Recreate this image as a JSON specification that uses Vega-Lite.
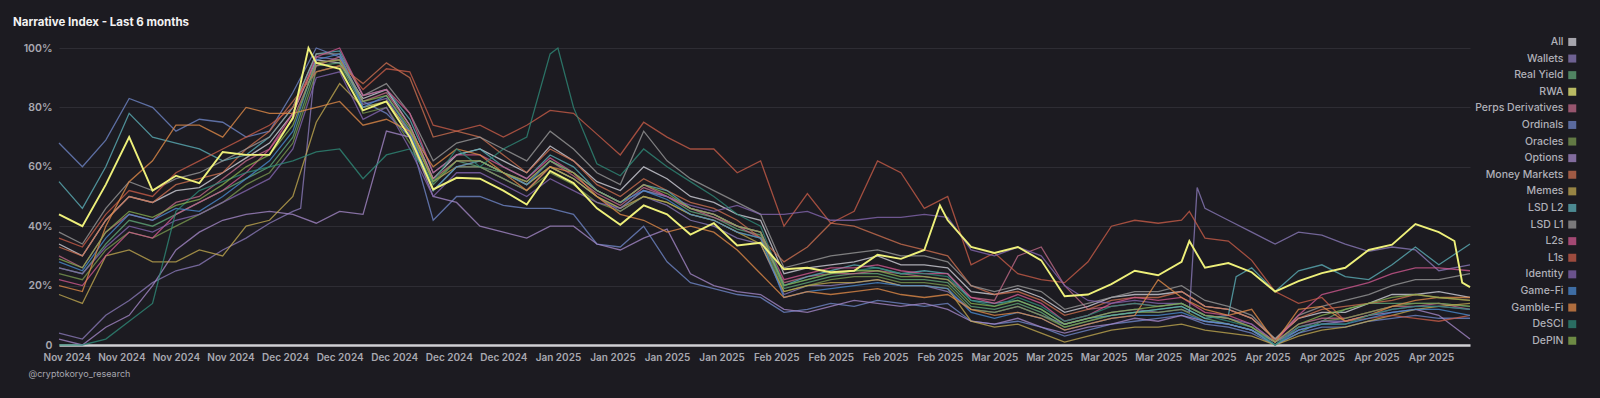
{
"$schema":"https://vega.github.io/schema/vega-lite/v6.json",
"width":1411,"height":297,
"autosize":{"type":"none"},
"padding":{"left":59,"top":48,"right":130,"bottom":53},
"background":"#1c1b21",
"config":{"view":{"stroke":null},"font":"Inter"},
"title":{"text":"Narrative Index - Last 6 months","anchor":"start","frame":"group","dx":-46,"offset":8.5,"font":"Inter","fontSize":11.5,"fontWeight":"bold","color":"#f2f2f2"},
"data":{"values":[
{"d":"2024-11-02","s":"All","v":34},{"d":"2024-11-05","s":"All","v":30},{"d":"2024-11-08","s":"All","v":42},{"d":"2024-11-11","s":"All","v":50},{"d":"2024-11-14","s":"All","v":48},{"d":"2024-11-17","s":"All","v":52},{"d":"2024-11-20","s":"All","v":53},{"d":"2024-11-23","s":"All","v":58},{"d":"2024-11-26","s":"All","v":63},{"d":"2024-11-29","s":"All","v":68},{"d":"2024-12-02","s":"All","v":78},{"d":"2024-12-05","s":"All","v":96},{"d":"2024-12-08","s":"All","v":95},{"d":"2024-12-11","s":"All","v":83},{"d":"2024-12-14","s":"All","v":86},{"d":"2024-12-17","s":"All","v":74},{"d":"2024-12-20","s":"All","v":56},{"d":"2024-12-23","s":"All","v":64},{"d":"2024-12-26","s":"All","v":66},{"d":"2024-12-29","s":"All","v":62},{"d":"2025-01-01","s":"All","v":58},{"d":"2025-01-04","s":"All","v":67},{"d":"2025-01-07","s":"All","v":62},{"d":"2025-01-10","s":"All","v":55},{"d":"2025-01-13","s":"All","v":52},{"d":"2025-01-16","s":"All","v":60},{"d":"2025-01-19","s":"All","v":56},{"d":"2025-01-22","s":"All","v":50},{"d":"2025-01-25","s":"All","v":48},{"d":"2025-01-28","s":"All","v":44},{"d":"2025-01-31","s":"All","v":42},{"d":"2025-02-03","s":"All","v":24},{"d":"2025-02-06","s":"All","v":26},{"d":"2025-02-09","s":"All","v":27},{"d":"2025-02-12","s":"All","v":28},{"d":"2025-02-15","s":"All","v":30},{"d":"2025-02-18","s":"All","v":27},{"d":"2025-02-21","s":"All","v":27},{"d":"2025-02-24","s":"All","v":26},{"d":"2025-02-27","s":"All","v":18},{"d":"2025-03-02","s":"All","v":17},{"d":"2025-03-05","s":"All","v":19},{"d":"2025-03-08","s":"All","v":16},{"d":"2025-03-11","s":"All","v":11},{"d":"2025-03-14","s":"All","v":13},{"d":"2025-03-17","s":"All","v":16},{"d":"2025-03-20","s":"All","v":17},{"d":"2025-03-23","s":"All","v":17},{"d":"2025-03-26","s":"All","v":18},{"d":"2025-03-29","s":"All","v":13},{"d":"2025-04-01","s":"All","v":12},{"d":"2025-04-04","s":"All","v":9},{"d":"2025-04-07","s":"All","v":2},{"d":"2025-04-10","s":"All","v":9},{"d":"2025-04-13","s":"All","v":11},{"d":"2025-04-16","s":"All","v":11},{"d":"2025-04-19","s":"All","v":14},{"d":"2025-04-22","s":"All","v":17},{"d":"2025-04-25","s":"All","v":17},{"d":"2025-04-28","s":"All","v":18},{"d":"2025-05-02","s":"All","v":16},
{"d":"2024-11-02","s":"Wallets","v":4},{"d":"2024-11-05","s":"Wallets","v":2},{"d":"2024-11-08","s":"Wallets","v":10},{"d":"2024-11-11","s":"Wallets","v":15},{"d":"2024-11-14","s":"Wallets","v":21},{"d":"2024-11-17","s":"Wallets","v":25},{"d":"2024-11-20","s":"Wallets","v":27},{"d":"2024-11-23","s":"Wallets","v":32},{"d":"2024-11-26","s":"Wallets","v":36},{"d":"2024-11-29","s":"Wallets","v":41},{"d":"2024-12-02","s":"Wallets","v":45},{"d":"2024-12-03","s":"Wallets","v":46},{"d":"2024-12-05","s":"Wallets","v":97},{"d":"2024-12-08","s":"Wallets","v":96},{"d":"2024-12-11","s":"Wallets","v":81},{"d":"2024-12-14","s":"Wallets","v":83},{"d":"2024-12-17","s":"Wallets","v":71},{"d":"2024-12-20","s":"Wallets","v":52},{"d":"2024-12-23","s":"Wallets","v":60},{"d":"2024-12-26","s":"Wallets","v":60},{"d":"2024-12-29","s":"Wallets","v":56},{"d":"2025-01-01","s":"Wallets","v":52},{"d":"2025-01-04","s":"Wallets","v":60},{"d":"2025-01-07","s":"Wallets","v":56},{"d":"2025-01-10","s":"Wallets","v":50},{"d":"2025-01-13","s":"Wallets","v":45},{"d":"2025-01-16","s":"Wallets","v":50},{"d":"2025-01-19","s":"Wallets","v":47},{"d":"2025-01-22","s":"Wallets","v":42},{"d":"2025-01-25","s":"Wallets","v":40},{"d":"2025-01-28","s":"Wallets","v":36},{"d":"2025-01-31","s":"Wallets","v":34},{"d":"2025-02-03","s":"Wallets","v":17},{"d":"2025-02-06","s":"Wallets","v":20},{"d":"2025-02-09","s":"Wallets","v":20},{"d":"2025-02-12","s":"Wallets","v":21},{"d":"2025-02-15","s":"Wallets","v":22},{"d":"2025-02-18","s":"Wallets","v":20},{"d":"2025-02-21","s":"Wallets","v":20},{"d":"2025-02-24","s":"Wallets","v":18},{"d":"2025-02-27","s":"Wallets","v":12},{"d":"2025-03-02","s":"Wallets","v":11},{"d":"2025-03-05","s":"Wallets","v":13},{"d":"2025-03-08","s":"Wallets","v":10},{"d":"2025-03-11","s":"Wallets","v":7},{"d":"2025-03-14","s":"Wallets","v":9},{"d":"2025-03-17","s":"Wallets","v":11},{"d":"2025-03-20","s":"Wallets","v":12},{"d":"2025-03-23","s":"Wallets","v":11},{"d":"2025-03-26","s":"Wallets","v":12},{"d":"2025-03-27","s":"Wallets","v":11},{"d":"2025-03-28","s":"Wallets","v":53},{"d":"2025-03-29","s":"Wallets","v":46},{"d":"2025-04-01","s":"Wallets","v":42},{"d":"2025-04-04","s":"Wallets","v":38},{"d":"2025-04-07","s":"Wallets","v":34},{"d":"2025-04-10","s":"Wallets","v":38},{"d":"2025-04-13","s":"Wallets","v":37},{"d":"2025-04-16","s":"Wallets","v":34},{"d":"2025-04-19","s":"Wallets","v":31.5},{"d":"2025-04-22","s":"Wallets","v":33},{"d":"2025-04-25","s":"Wallets","v":32},{"d":"2025-04-28","s":"Wallets","v":25},{"d":"2025-05-02","s":"Wallets","v":27},
{"d":"2024-11-02","s":"Real Yield","v":26},{"d":"2024-11-05","s":"Real Yield","v":24},{"d":"2024-11-08","s":"Real Yield","v":34},{"d":"2024-11-11","s":"Real Yield","v":42},{"d":"2024-11-14","s":"Real Yield","v":40},{"d":"2024-11-17","s":"Real Yield","v":44},{"d":"2024-11-20","s":"Real Yield","v":48},{"d":"2024-11-23","s":"Real Yield","v":52},{"d":"2024-11-26","s":"Real Yield","v":56},{"d":"2024-11-29","s":"Real Yield","v":60},{"d":"2024-12-02","s":"Real Yield","v":70},{"d":"2024-12-05","s":"Real Yield","v":94},{"d":"2024-12-08","s":"Real Yield","v":95},{"d":"2024-12-11","s":"Real Yield","v":80},{"d":"2024-12-14","s":"Real Yield","v":82},{"d":"2024-12-17","s":"Real Yield","v":70},{"d":"2024-12-20","s":"Real Yield","v":54},{"d":"2024-12-23","s":"Real Yield","v":62},{"d":"2024-12-26","s":"Real Yield","v":60},{"d":"2024-12-29","s":"Real Yield","v":58},{"d":"2025-01-01","s":"Real Yield","v":54},{"d":"2025-01-04","s":"Real Yield","v":60},{"d":"2025-01-07","s":"Real Yield","v":56},{"d":"2025-01-10","s":"Real Yield","v":50},{"d":"2025-01-13","s":"Real Yield","v":46},{"d":"2025-01-16","s":"Real Yield","v":52},{"d":"2025-01-19","s":"Real Yield","v":50},{"d":"2025-01-22","s":"Real Yield","v":45},{"d":"2025-01-25","s":"Real Yield","v":43},{"d":"2025-01-28","s":"Real Yield","v":39},{"d":"2025-01-31","s":"Real Yield","v":37},{"d":"2025-02-03","s":"Real Yield","v":19},{"d":"2025-02-06","s":"Real Yield","v":21},{"d":"2025-02-09","s":"Real Yield","v":23},{"d":"2025-02-12","s":"Real Yield","v":24},{"d":"2025-02-15","s":"Real Yield","v":24},{"d":"2025-02-18","s":"Real Yield","v":22},{"d":"2025-02-21","s":"Real Yield","v":22},{"d":"2025-02-24","s":"Real Yield","v":21},{"d":"2025-02-27","s":"Real Yield","v":13},{"d":"2025-03-02","s":"Real Yield","v":12},{"d":"2025-03-05","s":"Real Yield","v":14},{"d":"2025-03-08","s":"Real Yield","v":11},{"d":"2025-03-11","s":"Real Yield","v":6},{"d":"2025-03-14","s":"Real Yield","v":8},{"d":"2025-03-17","s":"Real Yield","v":10},{"d":"2025-03-20","s":"Real Yield","v":11},{"d":"2025-03-23","s":"Real Yield","v":12},{"d":"2025-03-26","s":"Real Yield","v":13},{"d":"2025-03-29","s":"Real Yield","v":9},{"d":"2025-04-01","s":"Real Yield","v":7},{"d":"2025-04-04","s":"Real Yield","v":5},{"d":"2025-04-07","s":"Real Yield","v":0},{"d":"2025-04-10","s":"Real Yield","v":4},{"d":"2025-04-13","s":"Real Yield","v":8},{"d":"2025-04-16","s":"Real Yield","v":12},{"d":"2025-04-19","s":"Real Yield","v":14},{"d":"2025-04-22","s":"Real Yield","v":14},{"d":"2025-04-25","s":"Real Yield","v":14},{"d":"2025-04-28","s":"Real Yield","v":14},{"d":"2025-05-02","s":"Real Yield","v":13},
{"d":"2024-11-02","s":"RWA","v":44},{"d":"2024-11-05","s":"RWA","v":40},{"d":"2024-11-08","s":"RWA","v":54},{"d":"2024-11-11","s":"RWA","v":70},{"d":"2024-11-14","s":"RWA","v":52},{"d":"2024-11-17","s":"RWA","v":57},{"d":"2024-11-20","s":"RWA","v":54.5},{"d":"2024-11-23","s":"RWA","v":65},{"d":"2024-11-26","s":"RWA","v":64},{"d":"2024-11-29","s":"RWA","v":64},{"d":"2024-12-02","s":"RWA","v":76.5},{"d":"2024-12-04","s":"RWA","v":100},{"d":"2024-12-05","s":"RWA","v":95},{"d":"2024-12-08","s":"RWA","v":93},{"d":"2024-12-11","s":"RWA","v":79},{"d":"2024-12-14","s":"RWA","v":82},{"d":"2024-12-17","s":"RWA","v":70},{"d":"2024-12-20","s":"RWA","v":52.4},{"d":"2024-12-23","s":"RWA","v":56.3},{"d":"2024-12-26","s":"RWA","v":56},{"d":"2024-12-29","s":"RWA","v":52},{"d":"2025-01-01","s":"RWA","v":47.3},{"d":"2025-01-04","s":"RWA","v":58.6},{"d":"2025-01-07","s":"RWA","v":54.5},{"d":"2025-01-10","s":"RWA","v":46},{"d":"2025-01-13","s":"RWA","v":40.5},{"d":"2025-01-16","s":"RWA","v":47},{"d":"2025-01-19","s":"RWA","v":44},{"d":"2025-01-22","s":"RWA","v":37.2},{"d":"2025-01-25","s":"RWA","v":41},{"d":"2025-01-28","s":"RWA","v":33.5},{"d":"2025-01-31","s":"RWA","v":34.4},{"d":"2025-02-03","s":"RWA","v":25.5},{"d":"2025-02-06","s":"RWA","v":26},{"d":"2025-02-09","s":"RWA","v":24.5},{"d":"2025-02-12","s":"RWA","v":25},{"d":"2025-02-15","s":"RWA","v":30.4},{"d":"2025-02-18","s":"RWA","v":29},{"d":"2025-02-21","s":"RWA","v":32},{"d":"2025-02-23","s":"RWA","v":47},{"d":"2025-02-24","s":"RWA","v":42},{"d":"2025-02-27","s":"RWA","v":33},{"d":"2025-03-02","s":"RWA","v":31},{"d":"2025-03-05","s":"RWA","v":33},{"d":"2025-03-08","s":"RWA","v":28.5},{"d":"2025-03-11","s":"RWA","v":16.4},{"d":"2025-03-14","s":"RWA","v":17},{"d":"2025-03-17","s":"RWA","v":20.5},{"d":"2025-03-20","s":"RWA","v":25},{"d":"2025-03-23","s":"RWA","v":23.5},{"d":"2025-03-26","s":"RWA","v":28},{"d":"2025-03-27","s":"RWA","v":35},{"d":"2025-03-29","s":"RWA","v":26},{"d":"2025-04-01","s":"RWA","v":27.6},{"d":"2025-04-04","s":"RWA","v":24.5},{"d":"2025-04-07","s":"RWA","v":18},{"d":"2025-04-10","s":"RWA","v":21.5},{"d":"2025-04-13","s":"RWA","v":24.2},{"d":"2025-04-16","s":"RWA","v":26},{"d":"2025-04-19","s":"RWA","v":32},{"d":"2025-04-22","s":"RWA","v":33.8},{"d":"2025-04-25","s":"RWA","v":40.7},{"d":"2025-04-28","s":"RWA","v":38},{"d":"2025-04-30","s":"RWA","v":35},{"d":"2025-05-01","s":"RWA","v":21},{"d":"2025-05-02","s":"RWA","v":19.5},
{"d":"2024-11-02","s":"Perps Derivatives","v":30},{"d":"2024-11-05","s":"Perps Derivatives","v":26},{"d":"2024-11-08","s":"Perps Derivatives","v":38},{"d":"2024-11-11","s":"Perps Derivatives","v":44},{"d":"2024-11-14","s":"Perps Derivatives","v":42},{"d":"2024-11-17","s":"Perps Derivatives","v":48},{"d":"2024-11-20","s":"Perps Derivatives","v":50},{"d":"2024-11-23","s":"Perps Derivatives","v":56},{"d":"2024-11-26","s":"Perps Derivatives","v":62},{"d":"2024-11-29","s":"Perps Derivatives","v":66},{"d":"2024-12-02","s":"Perps Derivatives","v":76},{"d":"2024-12-05","s":"Perps Derivatives","v":94},{"d":"2024-12-08","s":"Perps Derivatives","v":97},{"d":"2024-12-11","s":"Perps Derivatives","v":82},{"d":"2024-12-14","s":"Perps Derivatives","v":85},{"d":"2024-12-17","s":"Perps Derivatives","v":74},{"d":"2024-12-20","s":"Perps Derivatives","v":56},{"d":"2024-12-23","s":"Perps Derivatives","v":62},{"d":"2024-12-26","s":"Perps Derivatives","v":62},{"d":"2024-12-29","s":"Perps Derivatives","v":58},{"d":"2025-01-01","s":"Perps Derivatives","v":55},{"d":"2025-01-04","s":"Perps Derivatives","v":62},{"d":"2025-01-07","s":"Perps Derivatives","v":57},{"d":"2025-01-10","s":"Perps Derivatives","v":51},{"d":"2025-01-13","s":"Perps Derivatives","v":47},{"d":"2025-01-16","s":"Perps Derivatives","v":53},{"d":"2025-01-19","s":"Perps Derivatives","v":50},{"d":"2025-01-22","s":"Perps Derivatives","v":46},{"d":"2025-01-25","s":"Perps Derivatives","v":43},{"d":"2025-01-28","s":"Perps Derivatives","v":40},{"d":"2025-01-31","s":"Perps Derivatives","v":36},{"d":"2025-02-03","s":"Perps Derivatives","v":21},{"d":"2025-02-06","s":"Perps Derivatives","v":23},{"d":"2025-02-09","s":"Perps Derivatives","v":24},{"d":"2025-02-12","s":"Perps Derivatives","v":24},{"d":"2025-02-15","s":"Perps Derivatives","v":25},{"d":"2025-02-18","s":"Perps Derivatives","v":24},{"d":"2025-02-21","s":"Perps Derivatives","v":23},{"d":"2025-02-24","s":"Perps Derivatives","v":22},{"d":"2025-02-27","s":"Perps Derivatives","v":16},{"d":"2025-03-02","s":"Perps Derivatives","v":15},{"d":"2025-03-05","s":"Perps Derivatives","v":30},{"d":"2025-03-08","s":"Perps Derivatives","v":33},{"d":"2025-03-11","s":"Perps Derivatives","v":20},{"d":"2025-03-14","s":"Perps Derivatives","v":12},{"d":"2025-03-17","s":"Perps Derivatives","v":13},{"d":"2025-03-20","s":"Perps Derivatives","v":14},{"d":"2025-03-23","s":"Perps Derivatives","v":13},{"d":"2025-03-26","s":"Perps Derivatives","v":14},{"d":"2025-03-29","s":"Perps Derivatives","v":10},{"d":"2025-04-01","s":"Perps Derivatives","v":9},{"d":"2025-04-04","s":"Perps Derivatives","v":6},{"d":"2025-04-07","s":"Perps Derivatives","v":1},{"d":"2025-04-10","s":"Perps Derivatives","v":7},{"d":"2025-04-13","s":"Perps Derivatives","v":9},{"d":"2025-04-16","s":"Perps Derivatives","v":9},{"d":"2025-04-19","s":"Perps Derivatives","v":11},{"d":"2025-04-22","s":"Perps Derivatives","v":13},{"d":"2025-04-25","s":"Perps Derivatives","v":13},{"d":"2025-04-28","s":"Perps Derivatives","v":14},{"d":"2025-05-02","s":"Perps Derivatives","v":12},
{"d":"2024-11-02","s":"Ordinals","v":68},{"d":"2024-11-05","s":"Ordinals","v":60},{"d":"2024-11-08","s":"Ordinals","v":69},{"d":"2024-11-11","s":"Ordinals","v":83},{"d":"2024-11-14","s":"Ordinals","v":80},{"d":"2024-11-17","s":"Ordinals","v":72},{"d":"2024-11-20","s":"Ordinals","v":76},{"d":"2024-11-23","s":"Ordinals","v":75},{"d":"2024-11-26","s":"Ordinals","v":70},{"d":"2024-11-29","s":"Ordinals","v":72},{"d":"2024-12-02","s":"Ordinals","v":85},{"d":"2024-12-05","s":"Ordinals","v":100},{"d":"2024-12-08","s":"Ordinals","v":97},{"d":"2024-12-11","s":"Ordinals","v":82},{"d":"2024-12-14","s":"Ordinals","v":78},{"d":"2024-12-17","s":"Ordinals","v":70},{"d":"2024-12-20","s":"Ordinals","v":42},{"d":"2024-12-23","s":"Ordinals","v":50},{"d":"2024-12-26","s":"Ordinals","v":50},{"d":"2024-12-29","s":"Ordinals","v":47},{"d":"2025-01-01","s":"Ordinals","v":46},{"d":"2025-01-04","s":"Ordinals","v":46},{"d":"2025-01-07","s":"Ordinals","v":44},{"d":"2025-01-10","s":"Ordinals","v":34},{"d":"2025-01-13","s":"Ordinals","v":33},{"d":"2025-01-16","s":"Ordinals","v":40},{"d":"2025-01-19","s":"Ordinals","v":28},{"d":"2025-01-22","s":"Ordinals","v":21},{"d":"2025-01-25","s":"Ordinals","v":19},{"d":"2025-01-28","s":"Ordinals","v":17},{"d":"2025-01-31","s":"Ordinals","v":16},{"d":"2025-02-03","s":"Ordinals","v":11},{"d":"2025-02-06","s":"Ordinals","v":12},{"d":"2025-02-09","s":"Ordinals","v":14},{"d":"2025-02-12","s":"Ordinals","v":13},{"d":"2025-02-15","s":"Ordinals","v":15},{"d":"2025-02-18","s":"Ordinals","v":14},{"d":"2025-02-21","s":"Ordinals","v":13},{"d":"2025-02-24","s":"Ordinals","v":14},{"d":"2025-02-27","s":"Ordinals","v":8},{"d":"2025-03-02","s":"Ordinals","v":7},{"d":"2025-03-05","s":"Ordinals","v":8},{"d":"2025-03-08","s":"Ordinals","v":6},{"d":"2025-03-11","s":"Ordinals","v":3},{"d":"2025-03-14","s":"Ordinals","v":5},{"d":"2025-03-17","s":"Ordinals","v":7},{"d":"2025-03-20","s":"Ordinals","v":8},{"d":"2025-03-23","s":"Ordinals","v":9},{"d":"2025-03-26","s":"Ordinals","v":10},{"d":"2025-03-29","s":"Ordinals","v":7},{"d":"2025-04-01","s":"Ordinals","v":6},{"d":"2025-04-04","s":"Ordinals","v":4},{"d":"2025-04-07","s":"Ordinals","v":0},{"d":"2025-04-10","s":"Ordinals","v":4},{"d":"2025-04-13","s":"Ordinals","v":6},{"d":"2025-04-16","s":"Ordinals","v":6},{"d":"2025-04-19","s":"Ordinals","v":8},{"d":"2025-04-22","s":"Ordinals","v":9},{"d":"2025-04-25","s":"Ordinals","v":10},{"d":"2025-04-28","s":"Ordinals","v":9},{"d":"2025-05-02","s":"Ordinals","v":9},
{"d":"2024-11-02","s":"Oracles","v":24},{"d":"2024-11-05","s":"Oracles","v":22},{"d":"2024-11-08","s":"Oracles","v":32},{"d":"2024-11-11","s":"Oracles","v":38},{"d":"2024-11-14","s":"Oracles","v":36},{"d":"2024-11-17","s":"Oracles","v":40},{"d":"2024-11-20","s":"Oracles","v":44},{"d":"2024-11-23","s":"Oracles","v":48},{"d":"2024-11-26","s":"Oracles","v":54},{"d":"2024-11-29","s":"Oracles","v":58},{"d":"2024-12-02","s":"Oracles","v":68},{"d":"2024-12-05","s":"Oracles","v":92},{"d":"2024-12-08","s":"Oracles","v":94},{"d":"2024-12-11","s":"Oracles","v":78},{"d":"2024-12-14","s":"Oracles","v":80},{"d":"2024-12-17","s":"Oracles","v":68},{"d":"2024-12-20","s":"Oracles","v":52},{"d":"2024-12-23","s":"Oracles","v":60},{"d":"2024-12-26","s":"Oracles","v":60},{"d":"2024-12-29","s":"Oracles","v":56},{"d":"2025-01-01","s":"Oracles","v":52},{"d":"2025-01-04","s":"Oracles","v":58},{"d":"2025-01-07","s":"Oracles","v":54},{"d":"2025-01-10","s":"Oracles","v":48},{"d":"2025-01-13","s":"Oracles","v":45},{"d":"2025-01-16","s":"Oracles","v":50},{"d":"2025-01-19","s":"Oracles","v":48},{"d":"2025-01-22","s":"Oracles","v":44},{"d":"2025-01-25","s":"Oracles","v":42},{"d":"2025-01-28","s":"Oracles","v":38},{"d":"2025-01-31","s":"Oracles","v":36},{"d":"2025-02-03","s":"Oracles","v":18},{"d":"2025-02-06","s":"Oracles","v":20},{"d":"2025-02-09","s":"Oracles","v":22},{"d":"2025-02-12","s":"Oracles","v":23},{"d":"2025-02-15","s":"Oracles","v":23},{"d":"2025-02-18","s":"Oracles","v":21},{"d":"2025-02-21","s":"Oracles","v":21},{"d":"2025-02-24","s":"Oracles","v":20},{"d":"2025-02-27","s":"Oracles","v":12},{"d":"2025-03-02","s":"Oracles","v":11},{"d":"2025-03-05","s":"Oracles","v":13},{"d":"2025-03-08","s":"Oracles","v":10},{"d":"2025-03-11","s":"Oracles","v":6},{"d":"2025-03-14","s":"Oracles","v":8},{"d":"2025-03-17","s":"Oracles","v":10},{"d":"2025-03-20","s":"Oracles","v":11},{"d":"2025-03-23","s":"Oracles","v":11},{"d":"2025-03-26","s":"Oracles","v":12},{"d":"2025-03-29","s":"Oracles","v":8},{"d":"2025-04-01","s":"Oracles","v":7},{"d":"2025-04-04","s":"Oracles","v":5},{"d":"2025-04-07","s":"Oracles","v":0},{"d":"2025-04-10","s":"Oracles","v":6},{"d":"2025-04-13","s":"Oracles","v":8},{"d":"2025-04-16","s":"Oracles","v":9},{"d":"2025-04-19","s":"Oracles","v":11},{"d":"2025-04-22","s":"Oracles","v":13},{"d":"2025-04-25","s":"Oracles","v":14},{"d":"2025-04-28","s":"Oracles","v":14},{"d":"2025-05-02","s":"Oracles","v":13},
{"d":"2024-11-02","s":"Options","v":2},{"d":"2024-11-05","s":"Options","v":0},{"d":"2024-11-08","s":"Options","v":6},{"d":"2024-11-11","s":"Options","v":10},{"d":"2024-11-14","s":"Options","v":20},{"d":"2024-11-17","s":"Options","v":32},{"d":"2024-11-20","s":"Options","v":38},{"d":"2024-11-23","s":"Options","v":42},{"d":"2024-11-26","s":"Options","v":44},{"d":"2024-11-29","s":"Options","v":45},{"d":"2024-12-02","s":"Options","v":44},{"d":"2024-12-05","s":"Options","v":41},{"d":"2024-12-08","s":"Options","v":45},{"d":"2024-12-11","s":"Options","v":44},{"d":"2024-12-14","s":"Options","v":72},{"d":"2024-12-17","s":"Options","v":70},{"d":"2024-12-20","s":"Options","v":50},{"d":"2024-12-23","s":"Options","v":48},{"d":"2024-12-26","s":"Options","v":40},{"d":"2024-12-29","s":"Options","v":38},{"d":"2025-01-01","s":"Options","v":36},{"d":"2025-01-04","s":"Options","v":40},{"d":"2025-01-07","s":"Options","v":40},{"d":"2025-01-10","s":"Options","v":34},{"d":"2025-01-13","s":"Options","v":32},{"d":"2025-01-16","s":"Options","v":36},{"d":"2025-01-19","s":"Options","v":39},{"d":"2025-01-22","s":"Options","v":24},{"d":"2025-01-25","s":"Options","v":20},{"d":"2025-01-28","s":"Options","v":18},{"d":"2025-01-31","s":"Options","v":17},{"d":"2025-02-03","s":"Options","v":12},{"d":"2025-02-06","s":"Options","v":11},{"d":"2025-02-09","s":"Options","v":13},{"d":"2025-02-12","s":"Options","v":15},{"d":"2025-02-15","s":"Options","v":14},{"d":"2025-02-18","s":"Options","v":13},{"d":"2025-02-21","s":"Options","v":14},{"d":"2025-02-24","s":"Options","v":12},{"d":"2025-02-27","s":"Options","v":8},{"d":"2025-03-02","s":"Options","v":7},{"d":"2025-03-05","s":"Options","v":9},{"d":"2025-03-08","s":"Options","v":6},{"d":"2025-03-11","s":"Options","v":4},{"d":"2025-03-14","s":"Options","v":6},{"d":"2025-03-17","s":"Options","v":7},{"d":"2025-03-20","s":"Options","v":9},{"d":"2025-03-23","s":"Options","v":8},{"d":"2025-03-26","s":"Options","v":10},{"d":"2025-03-29","s":"Options","v":8},{"d":"2025-04-01","s":"Options","v":7},{"d":"2025-04-04","s":"Options","v":5},{"d":"2025-04-07","s":"Options","v":1},{"d":"2025-04-10","s":"Options","v":5},{"d":"2025-04-13","s":"Options","v":7},{"d":"2025-04-16","s":"Options","v":8},{"d":"2025-04-19","s":"Options","v":10},{"d":"2025-04-22","s":"Options","v":11},{"d":"2025-04-25","s":"Options","v":12},{"d":"2025-04-28","s":"Options","v":10},{"d":"2025-05-02","s":"Options","v":2},
{"d":"2024-11-02","s":"Money Markets","v":33},{"d":"2024-11-05","s":"Money Markets","v":30},{"d":"2024-11-08","s":"Money Markets","v":42},{"d":"2024-11-11","s":"Money Markets","v":50},{"d":"2024-11-14","s":"Money Markets","v":48},{"d":"2024-11-17","s":"Money Markets","v":54},{"d":"2024-11-20","s":"Money Markets","v":56},{"d":"2024-11-23","s":"Money Markets","v":58},{"d":"2024-11-26","s":"Money Markets","v":66},{"d":"2024-11-29","s":"Money Markets","v":72},{"d":"2024-12-02","s":"Money Markets","v":82},{"d":"2024-12-05","s":"Money Markets","v":92},{"d":"2024-12-08","s":"Money Markets","v":94},{"d":"2024-12-11","s":"Money Markets","v":88},{"d":"2024-12-14","s":"Money Markets","v":95},{"d":"2024-12-17","s":"Money Markets","v":90},{"d":"2024-12-20","s":"Money Markets","v":70},{"d":"2024-12-23","s":"Money Markets","v":72},{"d":"2024-12-26","s":"Money Markets","v":70},{"d":"2024-12-29","s":"Money Markets","v":64},{"d":"2025-01-01","s":"Money Markets","v":58},{"d":"2025-01-04","s":"Money Markets","v":66},{"d":"2025-01-07","s":"Money Markets","v":62},{"d":"2025-01-10","s":"Money Markets","v":54},{"d":"2025-01-13","s":"Money Markets","v":50},{"d":"2025-01-16","s":"Money Markets","v":56},{"d":"2025-01-19","s":"Money Markets","v":52},{"d":"2025-01-22","s":"Money Markets","v":48},{"d":"2025-01-25","s":"Money Markets","v":46},{"d":"2025-01-28","s":"Money Markets","v":42},{"d":"2025-01-31","s":"Money Markets","v":36},{"d":"2025-02-03","s":"Money Markets","v":28},{"d":"2025-02-06","s":"Money Markets","v":33},{"d":"2025-02-09","s":"Money Markets","v":41},{"d":"2025-02-12","s":"Money Markets","v":40},{"d":"2025-02-15","s":"Money Markets","v":37},{"d":"2025-02-18","s":"Money Markets","v":34},{"d":"2025-02-21","s":"Money Markets","v":32},{"d":"2025-02-24","s":"Money Markets","v":30},{"d":"2025-02-27","s":"Money Markets","v":20},{"d":"2025-03-02","s":"Money Markets","v":17},{"d":"2025-03-05","s":"Money Markets","v":18},{"d":"2025-03-08","s":"Money Markets","v":15},{"d":"2025-03-11","s":"Money Markets","v":10},{"d":"2025-03-14","s":"Money Markets","v":12},{"d":"2025-03-17","s":"Money Markets","v":15},{"d":"2025-03-20","s":"Money Markets","v":16},{"d":"2025-03-23","s":"Money Markets","v":16},{"d":"2025-03-26","s":"Money Markets","v":18},{"d":"2025-03-29","s":"Money Markets","v":13},{"d":"2025-04-01","s":"Money Markets","v":12},{"d":"2025-04-04","s":"Money Markets","v":9},{"d":"2025-04-07","s":"Money Markets","v":2},{"d":"2025-04-10","s":"Money Markets","v":9},{"d":"2025-04-13","s":"Money Markets","v":12},{"d":"2025-04-16","s":"Money Markets","v":13},{"d":"2025-04-19","s":"Money Markets","v":14},{"d":"2025-04-22","s":"Money Markets","v":15},{"d":"2025-04-25","s":"Money Markets","v":17},{"d":"2025-04-28","s":"Money Markets","v":16},{"d":"2025-05-02","s":"Money Markets","v":15},
{"d":"2024-11-02","s":"Memes","v":17},{"d":"2024-11-05","s":"Memes","v":14},{"d":"2024-11-08","s":"Memes","v":30},{"d":"2024-11-11","s":"Memes","v":32},{"d":"2024-11-14","s":"Memes","v":28},{"d":"2024-11-17","s":"Memes","v":28},{"d":"2024-11-20","s":"Memes","v":32},{"d":"2024-11-23","s":"Memes","v":30},{"d":"2024-11-26","s":"Memes","v":40},{"d":"2024-11-29","s":"Memes","v":42},{"d":"2024-12-02","s":"Memes","v":50},{"d":"2024-12-05","s":"Memes","v":75},{"d":"2024-12-08","s":"Memes","v":88},{"d":"2024-12-11","s":"Memes","v":80},{"d":"2024-12-14","s":"Memes","v":82},{"d":"2024-12-17","s":"Memes","v":72},{"d":"2024-12-20","s":"Memes","v":55},{"d":"2024-12-23","s":"Memes","v":60},{"d":"2024-12-26","s":"Memes","v":62},{"d":"2024-12-29","s":"Memes","v":58},{"d":"2025-01-01","s":"Memes","v":54},{"d":"2025-01-04","s":"Memes","v":60},{"d":"2025-01-07","s":"Memes","v":56},{"d":"2025-01-10","s":"Memes","v":50},{"d":"2025-01-13","s":"Memes","v":46},{"d":"2025-01-16","s":"Memes","v":50},{"d":"2025-01-19","s":"Memes","v":48},{"d":"2025-01-22","s":"Memes","v":44},{"d":"2025-01-25","s":"Memes","v":42},{"d":"2025-01-28","s":"Memes","v":38},{"d":"2025-01-31","s":"Memes","v":34},{"d":"2025-02-03","s":"Memes","v":18},{"d":"2025-02-06","s":"Memes","v":20},{"d":"2025-02-09","s":"Memes","v":21},{"d":"2025-02-12","s":"Memes","v":21},{"d":"2025-02-15","s":"Memes","v":22},{"d":"2025-02-18","s":"Memes","v":20},{"d":"2025-02-21","s":"Memes","v":20},{"d":"2025-02-24","s":"Memes","v":19},{"d":"2025-02-27","s":"Memes","v":8},{"d":"2025-03-02","s":"Memes","v":6},{"d":"2025-03-05","s":"Memes","v":7},{"d":"2025-03-08","s":"Memes","v":4},{"d":"2025-03-11","s":"Memes","v":1},{"d":"2025-03-14","s":"Memes","v":3},{"d":"2025-03-17","s":"Memes","v":5},{"d":"2025-03-20","s":"Memes","v":6},{"d":"2025-03-23","s":"Memes","v":6},{"d":"2025-03-26","s":"Memes","v":7},{"d":"2025-03-29","s":"Memes","v":5},{"d":"2025-04-01","s":"Memes","v":4},{"d":"2025-04-04","s":"Memes","v":3},{"d":"2025-04-07","s":"Memes","v":0},{"d":"2025-04-10","s":"Memes","v":3},{"d":"2025-04-13","s":"Memes","v":5},{"d":"2025-04-16","s":"Memes","v":6},{"d":"2025-04-19","s":"Memes","v":8},{"d":"2025-04-22","s":"Memes","v":10},{"d":"2025-04-25","s":"Memes","v":12},{"d":"2025-04-28","s":"Memes","v":13},{"d":"2025-05-02","s":"Memes","v":14},
{"d":"2024-11-02","s":"LSD L2","v":55},{"d":"2024-11-05","s":"LSD L2","v":46},{"d":"2024-11-08","s":"LSD L2","v":60},{"d":"2024-11-11","s":"LSD L2","v":78},{"d":"2024-11-14","s":"LSD L2","v":70},{"d":"2024-11-17","s":"LSD L2","v":68},{"d":"2024-11-20","s":"LSD L2","v":66},{"d":"2024-11-23","s":"LSD L2","v":62},{"d":"2024-11-26","s":"LSD L2","v":64},{"d":"2024-11-29","s":"LSD L2","v":70},{"d":"2024-12-02","s":"LSD L2","v":80},{"d":"2024-12-05","s":"LSD L2","v":98},{"d":"2024-12-08","s":"LSD L2","v":99},{"d":"2024-12-11","s":"LSD L2","v":84},{"d":"2024-12-14","s":"LSD L2","v":86},{"d":"2024-12-17","s":"LSD L2","v":76},{"d":"2024-12-20","s":"LSD L2","v":58},{"d":"2024-12-23","s":"LSD L2","v":64},{"d":"2024-12-26","s":"LSD L2","v":66},{"d":"2024-12-29","s":"LSD L2","v":60},{"d":"2025-01-01","s":"LSD L2","v":56},{"d":"2025-01-04","s":"LSD L2","v":64},{"d":"2025-01-07","s":"LSD L2","v":60},{"d":"2025-01-10","s":"LSD L2","v":52},{"d":"2025-01-13","s":"LSD L2","v":48},{"d":"2025-01-16","s":"LSD L2","v":54},{"d":"2025-01-19","s":"LSD L2","v":52},{"d":"2025-01-22","s":"LSD L2","v":46},{"d":"2025-01-25","s":"LSD L2","v":44},{"d":"2025-01-28","s":"LSD L2","v":40},{"d":"2025-01-31","s":"LSD L2","v":38},{"d":"2025-02-03","s":"LSD L2","v":20},{"d":"2025-02-06","s":"LSD L2","v":23},{"d":"2025-02-09","s":"LSD L2","v":25},{"d":"2025-02-12","s":"LSD L2","v":27},{"d":"2025-02-15","s":"LSD L2","v":26},{"d":"2025-02-18","s":"LSD L2","v":24},{"d":"2025-02-21","s":"LSD L2","v":25},{"d":"2025-02-24","s":"LSD L2","v":24},{"d":"2025-02-27","s":"LSD L2","v":15},{"d":"2025-03-02","s":"LSD L2","v":14},{"d":"2025-03-05","s":"LSD L2","v":15},{"d":"2025-03-08","s":"LSD L2","v":12},{"d":"2025-03-11","s":"LSD L2","v":7},{"d":"2025-03-14","s":"LSD L2","v":9},{"d":"2025-03-17","s":"LSD L2","v":10},{"d":"2025-03-20","s":"LSD L2","v":11},{"d":"2025-03-23","s":"LSD L2","v":12},{"d":"2025-03-26","s":"LSD L2","v":13},{"d":"2025-03-29","s":"LSD L2","v":9},{"d":"2025-04-01","s":"LSD L2","v":10},{"d":"2025-04-02","s":"LSD L2","v":23},{"d":"2025-04-04","s":"LSD L2","v":26},{"d":"2025-04-07","s":"LSD L2","v":18},{"d":"2025-04-10","s":"LSD L2","v":25},{"d":"2025-04-13","s":"LSD L2","v":27},{"d":"2025-04-16","s":"LSD L2","v":23},{"d":"2025-04-19","s":"LSD L2","v":22},{"d":"2025-04-22","s":"LSD L2","v":27},{"d":"2025-04-25","s":"LSD L2","v":33},{"d":"2025-04-28","s":"LSD L2","v":27},{"d":"2025-05-02","s":"LSD L2","v":34},
{"d":"2024-11-02","s":"LSD L1","v":38},{"d":"2024-11-05","s":"LSD L1","v":34},{"d":"2024-11-08","s":"LSD L1","v":46},{"d":"2024-11-11","s":"LSD L1","v":55},{"d":"2024-11-14","s":"LSD L1","v":52},{"d":"2024-11-17","s":"LSD L1","v":56},{"d":"2024-11-20","s":"LSD L1","v":58},{"d":"2024-11-23","s":"LSD L1","v":62},{"d":"2024-11-26","s":"LSD L1","v":66},{"d":"2024-11-29","s":"LSD L1","v":70},{"d":"2024-12-02","s":"LSD L1","v":80},{"d":"2024-12-05","s":"LSD L1","v":98},{"d":"2024-12-08","s":"LSD L1","v":98},{"d":"2024-12-11","s":"LSD L1","v":84},{"d":"2024-12-14","s":"LSD L1","v":88},{"d":"2024-12-17","s":"LSD L1","v":78},{"d":"2024-12-20","s":"LSD L1","v":62},{"d":"2024-12-23","s":"LSD L1","v":68},{"d":"2024-12-26","s":"LSD L1","v":70},{"d":"2024-12-29","s":"LSD L1","v":66},{"d":"2025-01-01","s":"LSD L1","v":62},{"d":"2025-01-04","s":"LSD L1","v":72},{"d":"2025-01-07","s":"LSD L1","v":66},{"d":"2025-01-10","s":"LSD L1","v":58},{"d":"2025-01-13","s":"LSD L1","v":54},{"d":"2025-01-16","s":"LSD L1","v":72},{"d":"2025-01-19","s":"LSD L1","v":62},{"d":"2025-01-22","s":"LSD L1","v":56},{"d":"2025-01-25","s":"LSD L1","v":52},{"d":"2025-01-28","s":"LSD L1","v":48},{"d":"2025-01-31","s":"LSD L1","v":44},{"d":"2025-02-03","s":"LSD L1","v":26},{"d":"2025-02-06","s":"LSD L1","v":28},{"d":"2025-02-09","s":"LSD L1","v":30},{"d":"2025-02-12","s":"LSD L1","v":31},{"d":"2025-02-15","s":"LSD L1","v":32},{"d":"2025-02-18","s":"LSD L1","v":30},{"d":"2025-02-21","s":"LSD L1","v":30},{"d":"2025-02-24","s":"LSD L1","v":28},{"d":"2025-02-27","s":"LSD L1","v":20},{"d":"2025-03-02","s":"LSD L1","v":18},{"d":"2025-03-05","s":"LSD L1","v":20},{"d":"2025-03-08","s":"LSD L1","v":18},{"d":"2025-03-11","s":"LSD L1","v":12},{"d":"2025-03-14","s":"LSD L1","v":14},{"d":"2025-03-17","s":"LSD L1","v":16},{"d":"2025-03-20","s":"LSD L1","v":18},{"d":"2025-03-23","s":"LSD L1","v":18},{"d":"2025-03-26","s":"LSD L1","v":20},{"d":"2025-03-29","s":"LSD L1","v":15},{"d":"2025-04-01","s":"LSD L1","v":13},{"d":"2025-04-04","s":"LSD L1","v":10},{"d":"2025-04-07","s":"LSD L1","v":2},{"d":"2025-04-10","s":"LSD L1","v":10},{"d":"2025-04-13","s":"LSD L1","v":13},{"d":"2025-04-16","s":"LSD L1","v":15},{"d":"2025-04-19","s":"LSD L1","v":17},{"d":"2025-04-22","s":"LSD L1","v":20},{"d":"2025-04-25","s":"LSD L1","v":22},{"d":"2025-04-28","s":"LSD L1","v":22},{"d":"2025-05-02","s":"LSD L1","v":24},
{"d":"2024-11-02","s":"L2s","v":22},{"d":"2024-11-05","s":"L2s","v":20},{"d":"2024-11-08","s":"L2s","v":30},{"d":"2024-11-11","s":"L2s","v":38},{"d":"2024-11-14","s":"L2s","v":36},{"d":"2024-11-17","s":"L2s","v":44},{"d":"2024-11-20","s":"L2s","v":48},{"d":"2024-11-23","s":"L2s","v":52},{"d":"2024-11-26","s":"L2s","v":58},{"d":"2024-11-29","s":"L2s","v":66},{"d":"2024-12-02","s":"L2s","v":78},{"d":"2024-12-05","s":"L2s","v":97},{"d":"2024-12-08","s":"L2s","v":100},{"d":"2024-12-11","s":"L2s","v":84},{"d":"2024-12-14","s":"L2s","v":86},{"d":"2024-12-17","s":"L2s","v":78},{"d":"2024-12-20","s":"L2s","v":58},{"d":"2024-12-23","s":"L2s","v":64},{"d":"2024-12-26","s":"L2s","v":64},{"d":"2024-12-29","s":"L2s","v":60},{"d":"2025-01-01","s":"L2s","v":56},{"d":"2025-01-04","s":"L2s","v":63},{"d":"2025-01-07","s":"L2s","v":58},{"d":"2025-01-10","s":"L2s","v":52},{"d":"2025-01-13","s":"L2s","v":48},{"d":"2025-01-16","s":"L2s","v":54},{"d":"2025-01-19","s":"L2s","v":50},{"d":"2025-01-22","s":"L2s","v":46},{"d":"2025-01-25","s":"L2s","v":44},{"d":"2025-01-28","s":"L2s","v":40},{"d":"2025-01-31","s":"L2s","v":38},{"d":"2025-02-03","s":"L2s","v":22},{"d":"2025-02-06","s":"L2s","v":24},{"d":"2025-02-09","s":"L2s","v":26},{"d":"2025-02-12","s":"L2s","v":26},{"d":"2025-02-15","s":"L2s","v":27},{"d":"2025-02-18","s":"L2s","v":25},{"d":"2025-02-21","s":"L2s","v":24},{"d":"2025-02-24","s":"L2s","v":24},{"d":"2025-02-27","s":"L2s","v":16},{"d":"2025-03-02","s":"L2s","v":14},{"d":"2025-03-05","s":"L2s","v":17},{"d":"2025-03-08","s":"L2s","v":14},{"d":"2025-03-11","s":"L2s","v":8},{"d":"2025-03-14","s":"L2s","v":10},{"d":"2025-03-17","s":"L2s","v":14},{"d":"2025-03-20","s":"L2s","v":16},{"d":"2025-03-23","s":"L2s","v":15},{"d":"2025-03-26","s":"L2s","v":16},{"d":"2025-03-29","s":"L2s","v":11},{"d":"2025-04-01","s":"L2s","v":10},{"d":"2025-04-04","s":"L2s","v":7},{"d":"2025-04-07","s":"L2s","v":1},{"d":"2025-04-10","s":"L2s","v":10},{"d":"2025-04-13","s":"L2s","v":17},{"d":"2025-04-16","s":"L2s","v":19},{"d":"2025-04-19","s":"L2s","v":21},{"d":"2025-04-22","s":"L2s","v":24},{"d":"2025-04-25","s":"L2s","v":26},{"d":"2025-04-28","s":"L2s","v":26},{"d":"2025-05-02","s":"L2s","v":25},
{"d":"2024-11-02","s":"L1s","v":36},{"d":"2024-11-05","s":"L1s","v":33},{"d":"2024-11-08","s":"L1s","v":44},{"d":"2024-11-11","s":"L1s","v":52},{"d":"2024-11-14","s":"L1s","v":50},{"d":"2024-11-17","s":"L1s","v":58},{"d":"2024-11-20","s":"L1s","v":62},{"d":"2024-11-23","s":"L1s","v":66},{"d":"2024-11-26","s":"L1s","v":70},{"d":"2024-11-29","s":"L1s","v":74},{"d":"2024-12-02","s":"L1s","v":80},{"d":"2024-12-05","s":"L1s","v":95},{"d":"2024-12-08","s":"L1s","v":96},{"d":"2024-12-11","s":"L1s","v":86},{"d":"2024-12-14","s":"L1s","v":93},{"d":"2024-12-17","s":"L1s","v":92},{"d":"2024-12-20","s":"L1s","v":74},{"d":"2024-12-23","s":"L1s","v":72},{"d":"2024-12-26","s":"L1s","v":74},{"d":"2024-12-29","s":"L1s","v":70},{"d":"2025-01-01","s":"L1s","v":74},{"d":"2025-01-04","s":"L1s","v":79},{"d":"2025-01-07","s":"L1s","v":78},{"d":"2025-01-10","s":"L1s","v":71},{"d":"2025-01-13","s":"L1s","v":64},{"d":"2025-01-16","s":"L1s","v":75},{"d":"2025-01-19","s":"L1s","v":70},{"d":"2025-01-22","s":"L1s","v":66},{"d":"2025-01-25","s":"L1s","v":66},{"d":"2025-01-28","s":"L1s","v":58},{"d":"2025-01-31","s":"L1s","v":62},{"d":"2025-02-03","s":"L1s","v":40},{"d":"2025-02-06","s":"L1s","v":51},{"d":"2025-02-09","s":"L1s","v":41},{"d":"2025-02-12","s":"L1s","v":45},{"d":"2025-02-15","s":"L1s","v":62},{"d":"2025-02-18","s":"L1s","v":58},{"d":"2025-02-21","s":"L1s","v":46},{"d":"2025-02-24","s":"L1s","v":50},{"d":"2025-02-27","s":"L1s","v":27},{"d":"2025-03-02","s":"L1s","v":31},{"d":"2025-03-05","s":"L1s","v":24},{"d":"2025-03-08","s":"L1s","v":22},{"d":"2025-03-11","s":"L1s","v":21},{"d":"2025-03-14","s":"L1s","v":28},{"d":"2025-03-17","s":"L1s","v":40},{"d":"2025-03-20","s":"L1s","v":42},{"d":"2025-03-23","s":"L1s","v":41},{"d":"2025-03-26","s":"L1s","v":42},{"d":"2025-03-27","s":"L1s","v":45},{"d":"2025-03-29","s":"L1s","v":36},{"d":"2025-04-01","s":"L1s","v":35},{"d":"2025-04-04","s":"L1s","v":28.5},{"d":"2025-04-07","s":"L1s","v":18},{"d":"2025-04-10","s":"L1s","v":14},{"d":"2025-04-13","s":"L1s","v":16},{"d":"2025-04-16","s":"L1s","v":8},{"d":"2025-04-19","s":"L1s","v":9},{"d":"2025-04-22","s":"L1s","v":10},{"d":"2025-04-25","s":"L1s","v":9},{"d":"2025-04-28","s":"L1s","v":8},{"d":"2025-05-02","s":"L1s","v":10},
{"d":"2024-11-02","s":"Identity","v":26},{"d":"2024-11-05","s":"Identity","v":24},{"d":"2024-11-08","s":"Identity","v":33},{"d":"2024-11-11","s":"Identity","v":40},{"d":"2024-11-14","s":"Identity","v":38},{"d":"2024-11-17","s":"Identity","v":42},{"d":"2024-11-20","s":"Identity","v":44},{"d":"2024-11-23","s":"Identity","v":48},{"d":"2024-11-26","s":"Identity","v":52},{"d":"2024-11-29","s":"Identity","v":56},{"d":"2024-12-02","s":"Identity","v":66},{"d":"2024-12-05","s":"Identity","v":90},{"d":"2024-12-08","s":"Identity","v":92},{"d":"2024-12-11","s":"Identity","v":76},{"d":"2024-12-14","s":"Identity","v":80},{"d":"2024-12-17","s":"Identity","v":66},{"d":"2024-12-20","s":"Identity","v":50},{"d":"2024-12-23","s":"Identity","v":58},{"d":"2024-12-26","s":"Identity","v":58},{"d":"2024-12-29","s":"Identity","v":54},{"d":"2025-01-01","s":"Identity","v":50},{"d":"2025-01-04","s":"Identity","v":56},{"d":"2025-01-07","s":"Identity","v":52},{"d":"2025-01-10","s":"Identity","v":48},{"d":"2025-01-13","s":"Identity","v":46},{"d":"2025-01-16","s":"Identity","v":52},{"d":"2025-01-19","s":"Identity","v":50},{"d":"2025-01-22","s":"Identity","v":47},{"d":"2025-01-25","s":"Identity","v":45},{"d":"2025-01-28","s":"Identity","v":47},{"d":"2025-01-31","s":"Identity","v":44},{"d":"2025-02-03","s":"Identity","v":44},{"d":"2025-02-06","s":"Identity","v":45},{"d":"2025-02-09","s":"Identity","v":42},{"d":"2025-02-12","s":"Identity","v":42},{"d":"2025-02-15","s":"Identity","v":43},{"d":"2025-02-18","s":"Identity","v":43},{"d":"2025-02-21","s":"Identity","v":44},{"d":"2025-02-24","s":"Identity","v":43},{"d":"2025-02-27","s":"Identity","v":32},{"d":"2025-03-02","s":"Identity","v":30},{"d":"2025-03-05","s":"Identity","v":33},{"d":"2025-03-08","s":"Identity","v":30},{"d":"2025-03-11","s":"Identity","v":20},{"d":"2025-03-14","s":"Identity","v":15},{"d":"2025-03-17","s":"Identity","v":14},{"d":"2025-03-20","s":"Identity","v":15},{"d":"2025-03-23","s":"Identity","v":14},{"d":"2025-03-26","s":"Identity","v":14},{"d":"2025-03-29","s":"Identity","v":10},{"d":"2025-04-01","s":"Identity","v":9},{"d":"2025-04-04","s":"Identity","v":7},{"d":"2025-04-07","s":"Identity","v":1},{"d":"2025-04-10","s":"Identity","v":6},{"d":"2025-04-13","s":"Identity","v":8},{"d":"2025-04-16","s":"Identity","v":8},{"d":"2025-04-19","s":"Identity","v":10},{"d":"2025-04-22","s":"Identity","v":12},{"d":"2025-04-25","s":"Identity","v":13},{"d":"2025-04-28","s":"Identity","v":13},{"d":"2025-05-02","s":"Identity","v":12},
{"d":"2024-11-02","s":"Game-Fi","v":28},{"d":"2024-11-05","s":"Game-Fi","v":25},{"d":"2024-11-08","s":"Game-Fi","v":36},{"d":"2024-11-11","s":"Game-Fi","v":44},{"d":"2024-11-14","s":"Game-Fi","v":42},{"d":"2024-11-17","s":"Game-Fi","v":46},{"d":"2024-11-20","s":"Game-Fi","v":45},{"d":"2024-11-23","s":"Game-Fi","v":50},{"d":"2024-11-26","s":"Game-Fi","v":56},{"d":"2024-11-29","s":"Game-Fi","v":62},{"d":"2024-12-02","s":"Game-Fi","v":72},{"d":"2024-12-05","s":"Game-Fi","v":96},{"d":"2024-12-08","s":"Game-Fi","v":98},{"d":"2024-12-11","s":"Game-Fi","v":80},{"d":"2024-12-14","s":"Game-Fi","v":84},{"d":"2024-12-17","s":"Game-Fi","v":72},{"d":"2024-12-20","s":"Game-Fi","v":52},{"d":"2024-12-23","s":"Game-Fi","v":60},{"d":"2024-12-26","s":"Game-Fi","v":62},{"d":"2024-12-29","s":"Game-Fi","v":58},{"d":"2025-01-01","s":"Game-Fi","v":54},{"d":"2025-01-04","s":"Game-Fi","v":62},{"d":"2025-01-07","s":"Game-Fi","v":58},{"d":"2025-01-10","s":"Game-Fi","v":52},{"d":"2025-01-13","s":"Game-Fi","v":48},{"d":"2025-01-16","s":"Game-Fi","v":52},{"d":"2025-01-19","s":"Game-Fi","v":49},{"d":"2025-01-22","s":"Game-Fi","v":44},{"d":"2025-01-25","s":"Game-Fi","v":42},{"d":"2025-01-28","s":"Game-Fi","v":38},{"d":"2025-01-31","s":"Game-Fi","v":36},{"d":"2025-02-03","s":"Game-Fi","v":16},{"d":"2025-02-06","s":"Game-Fi","v":18},{"d":"2025-02-09","s":"Game-Fi","v":19},{"d":"2025-02-12","s":"Game-Fi","v":20},{"d":"2025-02-15","s":"Game-Fi","v":21},{"d":"2025-02-18","s":"Game-Fi","v":20},{"d":"2025-02-21","s":"Game-Fi","v":20},{"d":"2025-02-24","s":"Game-Fi","v":19},{"d":"2025-02-27","s":"Game-Fi","v":11},{"d":"2025-03-02","s":"Game-Fi","v":9},{"d":"2025-03-05","s":"Game-Fi","v":11},{"d":"2025-03-08","s":"Game-Fi","v":9},{"d":"2025-03-11","s":"Game-Fi","v":5},{"d":"2025-03-14","s":"Game-Fi","v":7},{"d":"2025-03-17","s":"Game-Fi","v":9},{"d":"2025-03-20","s":"Game-Fi","v":10},{"d":"2025-03-23","s":"Game-Fi","v":10},{"d":"2025-03-26","s":"Game-Fi","v":11},{"d":"2025-03-29","s":"Game-Fi","v":8},{"d":"2025-04-01","s":"Game-Fi","v":7},{"d":"2025-04-04","s":"Game-Fi","v":5},{"d":"2025-04-07","s":"Game-Fi","v":0},{"d":"2025-04-10","s":"Game-Fi","v":5},{"d":"2025-04-13","s":"Game-Fi","v":7},{"d":"2025-04-16","s":"Game-Fi","v":7},{"d":"2025-04-19","s":"Game-Fi","v":9},{"d":"2025-04-22","s":"Game-Fi","v":11},{"d":"2025-04-25","s":"Game-Fi","v":12},{"d":"2025-04-28","s":"Game-Fi","v":12},{"d":"2025-05-02","s":"Game-Fi","v":10},
{"d":"2024-11-02","s":"Gamble-Fi","v":20},{"d":"2024-11-05","s":"Gamble-Fi","v":18},{"d":"2024-11-08","s":"Gamble-Fi","v":40},{"d":"2024-11-11","s":"Gamble-Fi","v":55},{"d":"2024-11-14","s":"Gamble-Fi","v":62},{"d":"2024-11-17","s":"Gamble-Fi","v":74},{"d":"2024-11-20","s":"Gamble-Fi","v":74},{"d":"2024-11-23","s":"Gamble-Fi","v":70},{"d":"2024-11-26","s":"Gamble-Fi","v":80},{"d":"2024-11-29","s":"Gamble-Fi","v":78},{"d":"2024-12-02","s":"Gamble-Fi","v":78},{"d":"2024-12-05","s":"Gamble-Fi","v":80},{"d":"2024-12-08","s":"Gamble-Fi","v":82},{"d":"2024-12-11","s":"Gamble-Fi","v":74},{"d":"2024-12-14","s":"Gamble-Fi","v":76},{"d":"2024-12-17","s":"Gamble-Fi","v":72},{"d":"2024-12-20","s":"Gamble-Fi","v":60},{"d":"2024-12-23","s":"Gamble-Fi","v":66},{"d":"2024-12-26","s":"Gamble-Fi","v":64},{"d":"2024-12-29","s":"Gamble-Fi","v":58},{"d":"2025-01-01","s":"Gamble-Fi","v":52},{"d":"2025-01-04","s":"Gamble-Fi","v":60},{"d":"2025-01-07","s":"Gamble-Fi","v":58},{"d":"2025-01-10","s":"Gamble-Fi","v":50},{"d":"2025-01-13","s":"Gamble-Fi","v":44},{"d":"2025-01-16","s":"Gamble-Fi","v":42},{"d":"2025-01-19","s":"Gamble-Fi","v":38},{"d":"2025-01-22","s":"Gamble-Fi","v":40},{"d":"2025-01-25","s":"Gamble-Fi","v":38},{"d":"2025-01-28","s":"Gamble-Fi","v":32},{"d":"2025-01-31","s":"Gamble-Fi","v":24},{"d":"2025-02-03","s":"Gamble-Fi","v":16},{"d":"2025-02-06","s":"Gamble-Fi","v":18},{"d":"2025-02-09","s":"Gamble-Fi","v":17},{"d":"2025-02-12","s":"Gamble-Fi","v":18},{"d":"2025-02-15","s":"Gamble-Fi","v":19},{"d":"2025-02-18","s":"Gamble-Fi","v":17},{"d":"2025-02-21","s":"Gamble-Fi","v":16},{"d":"2025-02-24","s":"Gamble-Fi","v":17},{"d":"2025-02-27","s":"Gamble-Fi","v":12},{"d":"2025-03-02","s":"Gamble-Fi","v":10},{"d":"2025-03-05","s":"Gamble-Fi","v":11},{"d":"2025-03-08","s":"Gamble-Fi","v":9},{"d":"2025-03-11","s":"Gamble-Fi","v":5},{"d":"2025-03-14","s":"Gamble-Fi","v":7},{"d":"2025-03-17","s":"Gamble-Fi","v":9},{"d":"2025-03-20","s":"Gamble-Fi","v":10},{"d":"2025-03-23","s":"Gamble-Fi","v":22},{"d":"2025-03-26","s":"Gamble-Fi","v":16},{"d":"2025-03-29","s":"Gamble-Fi","v":12},{"d":"2025-04-01","s":"Gamble-Fi","v":10},{"d":"2025-04-04","s":"Gamble-Fi","v":12},{"d":"2025-04-07","s":"Gamble-Fi","v":1},{"d":"2025-04-10","s":"Gamble-Fi","v":12},{"d":"2025-04-13","s":"Gamble-Fi","v":13},{"d":"2025-04-16","s":"Gamble-Fi","v":8},{"d":"2025-04-19","s":"Gamble-Fi","v":10},{"d":"2025-04-22","s":"Gamble-Fi","v":13},{"d":"2025-04-25","s":"Gamble-Fi","v":15},{"d":"2025-04-28","s":"Gamble-Fi","v":16},{"d":"2025-05-02","s":"Gamble-Fi","v":16},
{"d":"2024-11-02","s":"DeSCI","v":0},{"d":"2024-11-05","s":"DeSCI","v":0},{"d":"2024-11-08","s":"DeSCI","v":2},{"d":"2024-11-11","s":"DeSCI","v":8},{"d":"2024-11-14","s":"DeSCI","v":14},{"d":"2024-11-17","s":"DeSCI","v":45},{"d":"2024-11-20","s":"DeSCI","v":52},{"d":"2024-11-23","s":"DeSCI","v":55},{"d":"2024-11-26","s":"DeSCI","v":58},{"d":"2024-11-29","s":"DeSCI","v":60},{"d":"2024-12-02","s":"DeSCI","v":62},{"d":"2024-12-05","s":"DeSCI","v":65},{"d":"2024-12-08","s":"DeSCI","v":66},{"d":"2024-12-11","s":"DeSCI","v":56},{"d":"2024-12-14","s":"DeSCI","v":64},{"d":"2024-12-17","s":"DeSCI","v":66},{"d":"2024-12-20","s":"DeSCI","v":55},{"d":"2024-12-23","s":"DeSCI","v":66},{"d":"2024-12-26","s":"DeSCI","v":60},{"d":"2024-12-29","s":"DeSCI","v":66},{"d":"2025-01-01","s":"DeSCI","v":70},{"d":"2025-01-04","s":"DeSCI","v":98},{"d":"2025-01-05","s":"DeSCI","v":100},{"d":"2025-01-07","s":"DeSCI","v":80},{"d":"2025-01-10","s":"DeSCI","v":61},{"d":"2025-01-13","s":"DeSCI","v":57},{"d":"2025-01-16","s":"DeSCI","v":66},{"d":"2025-01-19","s":"DeSCI","v":60},{"d":"2025-01-22","s":"DeSCI","v":55},{"d":"2025-01-25","s":"DeSCI","v":50},{"d":"2025-01-28","s":"DeSCI","v":44},{"d":"2025-01-31","s":"DeSCI","v":40},{"d":"2025-02-03","s":"DeSCI","v":20},{"d":"2025-02-06","s":"DeSCI","v":22},{"d":"2025-02-09","s":"DeSCI","v":24},{"d":"2025-02-12","s":"DeSCI","v":25},{"d":"2025-02-15","s":"DeSCI","v":26},{"d":"2025-02-18","s":"DeSCI","v":24},{"d":"2025-02-21","s":"DeSCI","v":24},{"d":"2025-02-24","s":"DeSCI","v":23},{"d":"2025-02-27","s":"DeSCI","v":15},{"d":"2025-03-02","s":"DeSCI","v":13},{"d":"2025-03-05","s":"DeSCI","v":16},{"d":"2025-03-08","s":"DeSCI","v":13},{"d":"2025-03-11","s":"DeSCI","v":8},{"d":"2025-03-14","s":"DeSCI","v":10},{"d":"2025-03-17","s":"DeSCI","v":13},{"d":"2025-03-20","s":"DeSCI","v":14},{"d":"2025-03-23","s":"DeSCI","v":13},{"d":"2025-03-26","s":"DeSCI","v":14},{"d":"2025-03-29","s":"DeSCI","v":10},{"d":"2025-04-01","s":"DeSCI","v":8},{"d":"2025-04-04","s":"DeSCI","v":6},{"d":"2025-04-07","s":"DeSCI","v":0},{"d":"2025-04-10","s":"DeSCI","v":6},{"d":"2025-04-13","s":"DeSCI","v":7},{"d":"2025-04-16","s":"DeSCI","v":7},{"d":"2025-04-19","s":"DeSCI","v":10},{"d":"2025-04-22","s":"DeSCI","v":12},{"d":"2025-04-25","s":"DeSCI","v":13},{"d":"2025-04-28","s":"DeSCI","v":13},{"d":"2025-05-02","s":"DeSCI","v":12},
{"d":"2024-11-02","s":"DePIN","v":29},{"d":"2024-11-05","s":"DePIN","v":26},{"d":"2024-11-08","s":"DePIN","v":38},{"d":"2024-11-11","s":"DePIN","v":45},{"d":"2024-11-14","s":"DePIN","v":43},{"d":"2024-11-17","s":"DePIN","v":47},{"d":"2024-11-20","s":"DePIN","v":49},{"d":"2024-11-23","s":"DePIN","v":54},{"d":"2024-11-26","s":"DePIN","v":60},{"d":"2024-11-29","s":"DePIN","v":64},{"d":"2024-12-02","s":"DePIN","v":74},{"d":"2024-12-05","s":"DePIN","v":95},{"d":"2024-12-08","s":"DePIN","v":96},{"d":"2024-12-11","s":"DePIN","v":82},{"d":"2024-12-14","s":"DePIN","v":84},{"d":"2024-12-17","s":"DePIN","v":73},{"d":"2024-12-20","s":"DePIN","v":55},{"d":"2024-12-23","s":"DePIN","v":62},{"d":"2024-12-26","s":"DePIN","v":62},{"d":"2024-12-29","s":"DePIN","v":58},{"d":"2025-01-01","s":"DePIN","v":55},{"d":"2025-01-04","s":"DePIN","v":62},{"d":"2025-01-07","s":"DePIN","v":58},{"d":"2025-01-10","s":"DePIN","v":52},{"d":"2025-01-13","s":"DePIN","v":48},{"d":"2025-01-16","s":"DePIN","v":54},{"d":"2025-01-19","s":"DePIN","v":51},{"d":"2025-01-22","s":"DePIN","v":46},{"d":"2025-01-25","s":"DePIN","v":44},{"d":"2025-01-28","s":"DePIN","v":40},{"d":"2025-01-31","s":"DePIN","v":38},{"d":"2025-02-03","s":"DePIN","v":20},{"d":"2025-02-06","s":"DePIN","v":22},{"d":"2025-02-09","s":"DePIN","v":24},{"d":"2025-02-12","s":"DePIN","v":25},{"d":"2025-02-15","s":"DePIN","v":25},{"d":"2025-02-18","s":"DePIN","v":23},{"d":"2025-02-21","s":"DePIN","v":23},{"d":"2025-02-24","s":"DePIN","v":22},{"d":"2025-02-27","s":"DePIN","v":14},{"d":"2025-03-02","s":"DePIN","v":13},{"d":"2025-03-05","s":"DePIN","v":15},{"d":"2025-03-08","s":"DePIN","v":12},{"d":"2025-03-11","s":"DePIN","v":7},{"d":"2025-03-14","s":"DePIN","v":9},{"d":"2025-03-17","s":"DePIN","v":11},{"d":"2025-03-20","s":"DePIN","v":12},{"d":"2025-03-23","s":"DePIN","v":13},{"d":"2025-03-26","s":"DePIN","v":14},{"d":"2025-03-29","s":"DePIN","v":10},{"d":"2025-04-01","s":"DePIN","v":9},{"d":"2025-04-04","s":"DePIN","v":6},{"d":"2025-04-07","s":"DePIN","v":1},{"d":"2025-04-10","s":"DePIN","v":7},{"d":"2025-04-13","s":"DePIN","v":10},{"d":"2025-04-16","s":"DePIN","v":12},{"d":"2025-04-19","s":"DePIN","v":14},{"d":"2025-04-22","s":"DePIN","v":16},{"d":"2025-04-25","s":"DePIN","v":17},{"d":"2025-04-28","s":"DePIN","v":16},{"d":"2025-05-02","s":"DePIN","v":15}
]},
"encoding":{
"x":{"field":"d","type":"temporal","scale":{"type":"utc","domain":[{"year":2024,"month":11,"date":2,"utc":true},{"year":2025,"month":5,"date":2,"utc":true}],"nice":false},
"axis":{"title":"@cryptokoryo_research","titleAnchor":"start","titleAlign":"left","titleX":-31,"titleY":28,"titleBaseline":"middle","titleColor":"#a8a8b0","titleFontSize":9,"titleFontWeight":"normal","format":"%b %Y","tickCount":{"interval":"week","step":1},"labelColor":"#a8a8b0","labelFontSize":10,"labelFontWeight":600,"labelPadding":7,"labelOverlap":false,"labelFlush":false,"ticks":false,"grid":false,"domainColor":"#d0d0d4","domainWidth":2.5}},
"y":{"field":"v","type":"quantitative","scale":{"domain":[0,100],"nice":false},
"axis":{"title":null,"values":[0,20,40,60,80,100],"labelExpr":"datum.value === 0 ? '0' : datum.value + '%'","labelColor":"#a8a8b0","labelFontSize":10.5,"labelFontWeight":600,"labelPadding":7,"ticks":false,"domain":false,"grid":true,"gridColor":"#2e2d34","gridWidth":1}},
"color":{"field":"s","type":"nominal",
"scale":{"domain":["All","Wallets","Real Yield","RWA","Perps Derivatives","Ordinals","Oracles","Options","Money Markets","Memes","LSD L2","LSD L1","L2s","L1s","Identity","Game-Fi","Gamble-Fi","DeSCI","DePIN"],
"range":["#d4d4dc","#8a7ab8","#62a878","#eef07a","#c06a88","#6f86c8","#7a9a50","#a488c8","#cc7050","#c0a850","#5cb0b8","#9a9a9a","#d0588f","#c85c48","#8466b0","#4a8ad0","#e08a48","#2f8a78","#88b050"]},
"legend":{"orient":"none","legendX":1508,"legendY":-11.3,"title":null,"symbolType":"square","symbolSize":64,"symbolStrokeWidth":0,"labelAlign":"right","labelOffset":-14,"labelColor":"#b0b0b8","labelFontSize":10.5,"labelFontWeight":500,"rowPadding":5.6,"padding":0,"labelLimit":200,
"encode":{"symbols":{"update":{"fill":{"scale":"color","field":"value"},"fillOpacity":{"value":0.75},"strokeWidth":{"value":0}}}}}}
},
"layer":[
{"transform":[{"filter":"datum.s !== 'RWA'"}],"mark":{"type":"line","strokeWidth":1.3,"strokeOpacity":0.78}},
{"transform":[{"filter":"datum.s === 'RWA'"}],"mark":{"type":"line","strokeWidth":1.9,"strokeOpacity":1}}
]
}
